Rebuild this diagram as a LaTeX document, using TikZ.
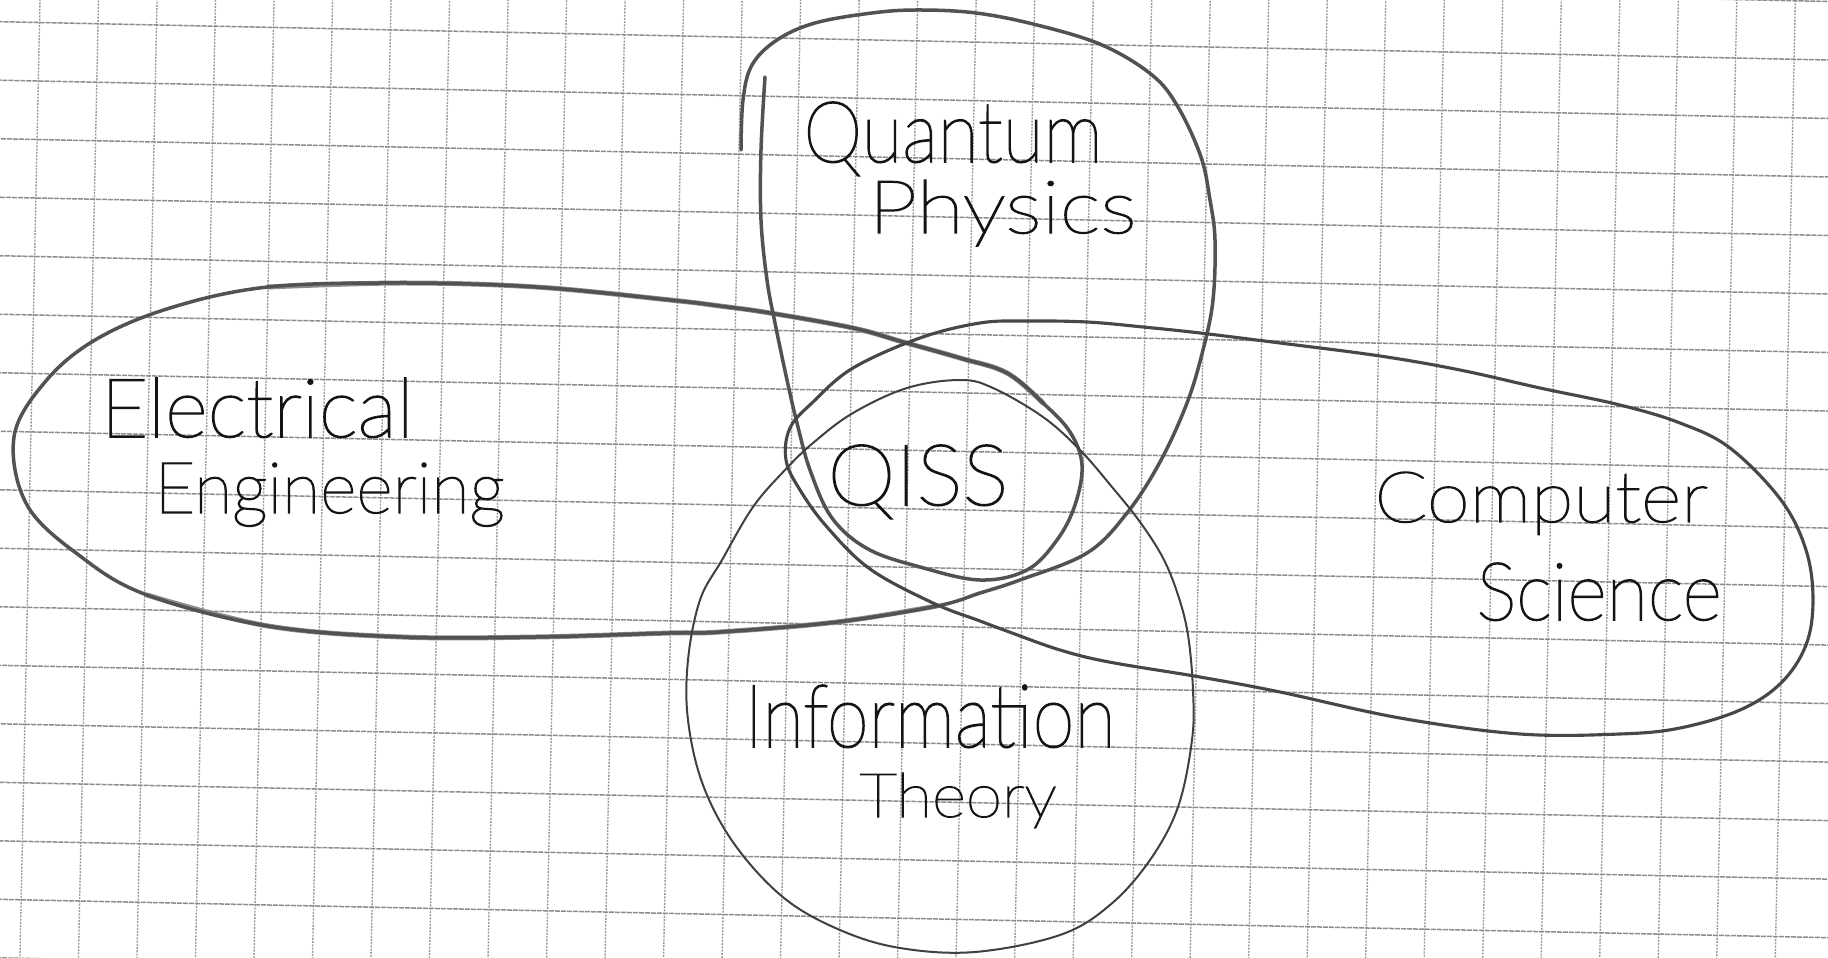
\documentclass[tikz,border=0pt]{standalone}
\usepackage{fontspec}
\usepackage{graphicx}
\newfontfamily\hand{Lato Hairline}[FakeBold=2]
\newcommand\hw[3]{\resizebox{#1}{#2}{\hand #3}}
\begin{document}
\begin{tikzpicture}[x=0.4pt,y=-0.4pt,
  pen/.style={line width=1.25pt, draw=black!72, line cap=round, line join=round},
  widepen/.style={line width=1.4pt, draw=black!68, line cap=round, line join=round},
  halo/.style={line width=2pt, draw=black!45, line cap=round, line join=round},
  thinpen/.style={line width=0.8pt, draw=black!75, line cap=round, line join=round},
  gridv/.style={line width=0.55pt, draw=black!40, dash pattern=on 0.8pt off 0.5pt},
  gridh/.style={line width=0.6pt, draw=black!45, dash pattern=on 2pt off 0.4pt},
  lbl/.style={inner sep=0pt, text=black!92, anchor=base west}]
\useasboundingbox (0,0) rectangle (1828,958);
\fill[white] (0,0) rectangle (1828,958);
\clip (0,0) rectangle (1828,958);
% grid paper
\begin{scope}[rotate=-1.2]
\foreach \k in {-3,...,33} \draw[gridv] ({40+58.5*\k},-200) -- ({40+58.5*\k},1200);
\foreach \k in {-3,...,19} \draw[gridh] (-200,{21.7+58.5*\k}) -- (2050,{21.7+58.5*\k});
\end{scope}
% heavier pencil on the Electrical Engineering edges
\draw[halo] plot[smooth, tension=0.6] coordinates {
 (268,287) (402,283) (536,287) (670,300) (720,306) (770,313) (853,328) (903,342)
 (960,358) (1007,373) (1043,403)};
\draw[halo] plot[smooth, tension=0.6] coordinates {
 (147,595) (268,626) (402,637) (536,637) (670,633) (720,632) (837,622) (937,606)};
% Electrical Engineering + Quantum Physics outline (one stroke)
\draw[widepen] plot[smooth, tension=0.6] coordinates {
 (765,77) (761,150) (761,220) (767,280) (775,323) (787,380) (797,423) (810,470)
 (832,518) (868,549) (920,567) (980,580) (1027,570) (1057,540) (1075,505) (1082,465)
 (1070,432) (1043,403) (1007,373) (960,358) (903,342) (853,328) (770,313) (720,306)
 (670,300) (536,287) (402,283) (268,287) (170,308) (95,340) (45,382) (14,437)
 (27,505) (80,556) (147,595) (268,626) (402,637) (536,637) (670,633) (720,632)
 (837,622) (937,606) (980,593) (1020,580) (1087,553) (1127,513) (1160,462) (1187,403)
 (1203,350) (1213,300) (1215,240) (1210,200) (1201,157) (1178,107) (1152,75) (1102,45)
 (1037,25) (976,13) (918,10) (872,13) (815,23) (777,40) (752,65) (743,100) (741,150)};
% Computer Science
\draw[pen] plot[smooth cycle, tension=0.6] coordinates {
 (980,323) (1027,321) (1087,322) (1143,327) (1200,333) (1280,343) (1380,356) (1460,370)
 (1540,388) (1620,405) (1680,423) (1730,448) (1781,500) (1806,550) (1813,600) (1806,645)
 (1781,683) (1740,710) (1680,728) (1620,734) (1520,734) (1400,718) (1280,692) (1200,677)
 (1109,662) (1060,650) (1012,633) (980,621) (933,603) (870,569) (827,527) (800,490)
 (786,460) (790,428) (813,402) (853,368) (920,338)};
% Information Theory
\draw[thinpen] plot[smooth cycle, tension=0.6] coordinates {
 (960,380) (993,388) (1043,417) (1080,450) (1112,487) (1140,522) (1163,558) (1178,595)
 (1188,635) (1193,690) (1192,740) (1178,807) (1150,860) (1110,905) (1060,935) (975,952)
 (900,948) (840,930) (784,898) (735,845) (703,785) (688,720) (688,660) (700,600)
 (722,560) (753,507) (785,470) (813,443) (853,413) (907,388)};
% labels
\node[lbl] (qp1) at (803,162) {\hw{119.6pt}{24pt}{Quantum}};
\node[lbl] (qp2) at (868,233) {\hw{107.2pt}{21.2pt}{Physics}};
\node[lbl] (ee1) at (100,437) {\hw{125.2pt}{23.6pt}{Electrical}};
\node[lbl] (ee2) at (154,513) {\hw{140pt}{20pt}{Engineering}};
\node[lbl] (qiss) at (827,505) {\hw{72.4pt}{24pt}{QISS}};
\node[lbl] (cs1) at (1374,522) {\hw{133.2pt}{20pt}{Computer}};
\node[lbl] (cs2) at (1476,620) {\hw{98pt}{22.8pt}{Science}};
\node[lbl] (it1) at (744,747) {\hw{148.4pt}{24.8pt}{Information}};
\node[lbl] (it2) at (859,817) {\hw{78.8pt}{17.6pt}{Theory}};
\end{tikzpicture}
\end{document}
